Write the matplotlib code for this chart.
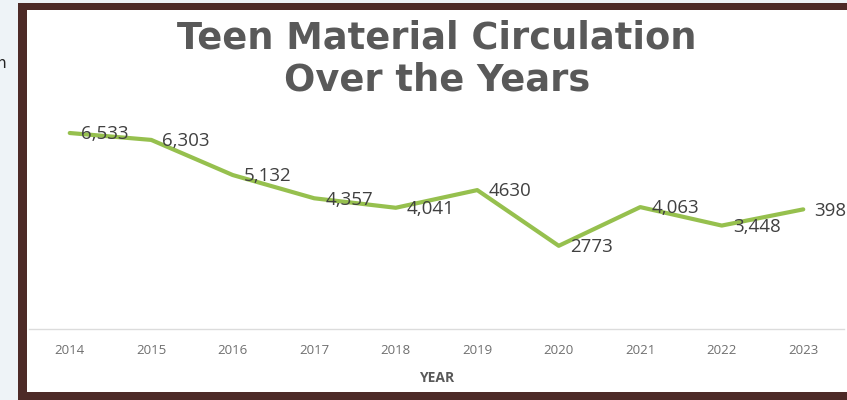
import matplotlib.pyplot as plt
from matplotlib.patches import Rectangle

years = ['2014', '2015', '2016', '2017', '2018', '2019', '2020', '2021', '2022', '2023']
circulation = [6533, 6303, 5132, 4357, 4041, 4630, 2773, 4063, 3448, 3988]
point_labels = ['6,533', '6,303', '5,132', '4,357', '4,041', '4630', '2773', '4,063', '3,448', '3988']

W, H = 847, 400
fig = plt.figure(figsize=(W / 100, H / 100), dpi=100)
fig.patch.set_facecolor('white')


def px(x, y, w, h):
    # pixel box (from top-left) -> figure fraction box
    return (x / W, 1 - (y + h) / H, w / W, h / H)


# slide background strip on the left and the brown frame
x0, y0, w0, h0 = px(0, 0, 18, H)
fig.patches.append(Rectangle((x0, y0), w0, h0, transform=fig.transFigure,
                             facecolor='#eef3f7', edgecolor='none', zorder=0))
x0, y0, w0, h0 = px(0, 0, W, 3)
fig.patches.append(Rectangle((x0, y0), w0, h0, transform=fig.transFigure,
                             facecolor='#eef3f7', edgecolor='none', zorder=0))
for box in [(18, 3, 9, 397), (18, 3, W - 18, 7), (18, 392, W - 18, 8)]:
    x0, y0, w0, h0 = px(*box)
    fig.patches.append(Rectangle((x0, y0), w0, h0, transform=fig.transFigure,
                                 facecolor='#4d2a27', edgecolor='none', zorder=1))
fig.text(-0.004, 1 - 63 / H, 'n', fontsize=11, color='#222222', va='center', ha='left')

ax = fig.add_axes(px(29, 89, 815, 240))
ax.set_facecolor('none')
xs = list(range(len(years)))
ax.plot(xs, circulation, color='#96c04e', lw=3.0, solid_capstyle='round',
        solid_joinstyle='round', zorder=3)
for i, v in enumerate(circulation):
    ax.annotate(point_labels[i], (i, v), xytext=(8, -1), textcoords='offset points',
                ha='left', va='center', fontsize=13.5, family='Open Sans',
                color='#404040', annotation_clip=False, zorder=4)

ax.set_xlim(-0.5, len(years) - 0.5)
ax.set_ylim(0, 8000)
ax.set_xticks(xs)
ax.set_xticklabels(years, fontsize=9.5, family='Open Sans', color='#6f6f6f')
ax.set_yticks([])
ax.tick_params(axis='x', length=0, pad=11)
for s in ['top', 'right', 'left']:
    ax.spines[s].set_visible(False)
ax.spines['bottom'].set_color('#dcdcdc')
ax.spines['bottom'].set_linewidth(1)

fig.text(437 / W, 1 - 378 / H, 'YEAR', ha='center', va='center', fontsize=10,
         fontweight='bold', family='Open Sans', color='#595959')
fig.text(437 / W, 1 - 59 / H, 'Teen Material Circulation\nOver the Years',
         ha='center', va='center', fontsize=26.5, fontweight='bold',
         family='DejaVu Sans', color='#595959', linespacing=1.2)

fig.savefig('out.png', dpi=100)
